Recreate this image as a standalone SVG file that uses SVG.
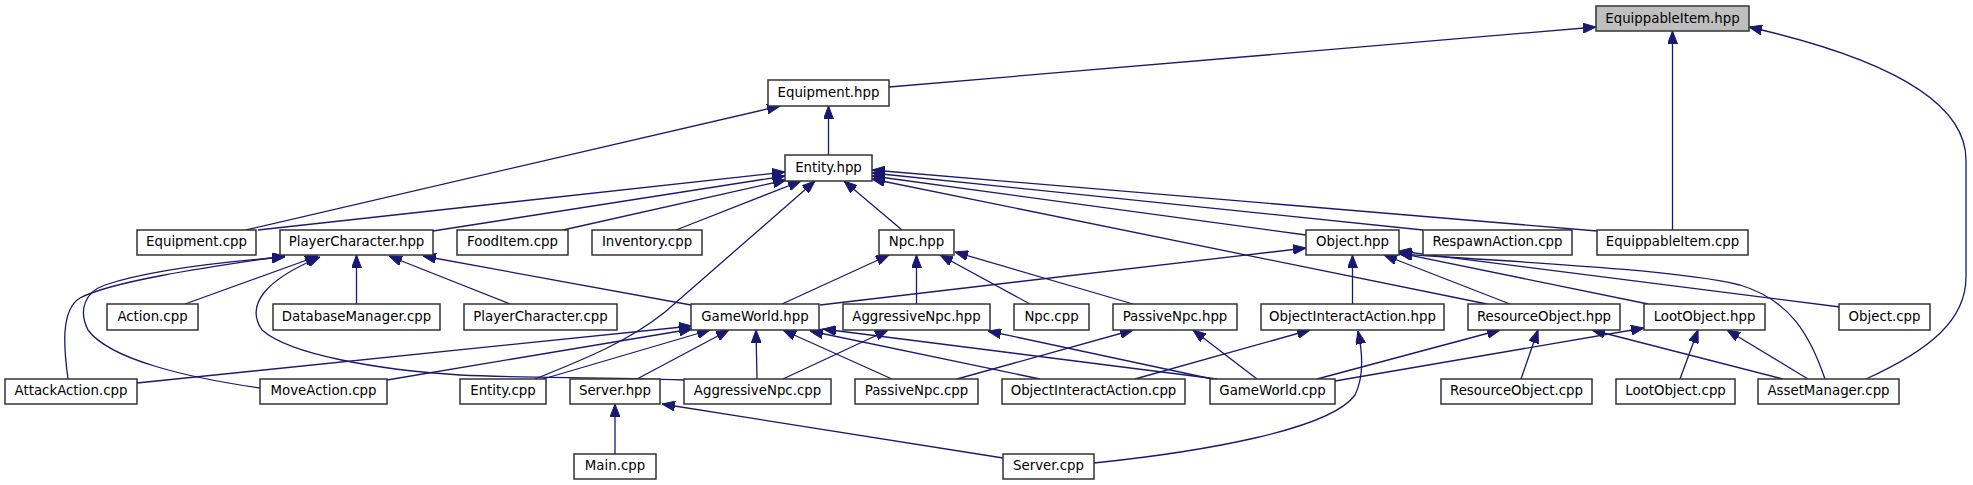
<svg xmlns="http://www.w3.org/2000/svg" width="1973" height="485" viewBox="0 0 1973 485">
<style>
.n rect{fill:#ffffff;stroke:#333333;stroke-width:1.5}
.n.main rect{fill:#bfbfbf}
.n text{font-family:"DejaVu Sans","Liberation Sans",sans-serif;font-size:13.33px;text-anchor:middle;fill:#000}
#edges path{fill:none;stroke:#191970;stroke-width:1.3;marker-end:url(#arr)}
</style>
<defs>
<marker id="arr" viewBox="0 0 13 10" refX="13" refY="5" markerWidth="13" markerHeight="10" markerUnits="userSpaceOnUse" orient="auto">
<path d="M0,0 L13,5 L0,10 z" fill="#191970" stroke="#191970" stroke-width="1"/>
</marker>
</defs>
<rect width="1973" height="485" fill="#ffffff"/>
<g id="edges">
<path d="M889,87 L1596,27"/>
<path d="M1672.5,230 L1672.5,31"/>
<path d="M1866,379 C1930,350 1966,320 1966,277 L1966,160 C1966,90 1850,50 1749,27"/>
<path d="M828.5,155 L828.5,106"/>
<path d="M246,230 L780,106"/>
<path d="M258,230 L785,172"/>
<path d="M433,231 L785,176"/>
<path d="M563,230 L786,180"/>
<path d="M676,230 L801,181"/>
<path d="M535,379 C590,357 630,340 665,312 L815,181"/>
<path d="M902,230 L844,181"/>
<path d="M1306,235 L872,176"/>
<path d="M1423,230 L872,173"/>
<path d="M1597,231 L872,170"/>
<path d="M1487,304 L872,179"/>
<path d="M68,379 C64,350 60,310 80,298 C110,282 200,268 285,256"/>
<path d="M260,388 C190,378 110,360 88,330 C78,310 85,292 105,285 C150,270 220,262 285,257"/>
<path d="M185,304 L318,256"/>
<path d="M684,380 C600,377 520,378 460,375 C380,370 290,355 262,330 C245,305 265,280 320,257"/>
<path d="M356.5,304 L356.5,255"/>
<path d="M510,304 L389,256"/>
<path d="M691,305 L423,256"/>
<path d="M137,383 L692,326"/>
<path d="M387,380 L692,329"/>
<path d="M543,379 L710,330"/>
<path d="M637,379 L729,330"/>
<path d="M757,379 L756,330"/>
<path d="M892,379 L783,330"/>
<path d="M1040,379 L810,331"/>
<path d="M1217,379 L823,329"/>
<path d="M782,304 L889,255"/>
<path d="M916.5,304 L916.5,255"/>
<path d="M1030,304 L940,255"/>
<path d="M1133,304 L955,252"/>
<path d="M820,305 L1306,248"/>
<path d="M1352.5,304 L1352.5,255"/>
<path d="M1510,304 L1384,255"/>
<path d="M1648,304 L1399,253"/>
<path d="M1840,307 L1399,251"/>
<path d="M1825,379 C1810,335 1790,300 1740,285 C1680,270 1520,262 1399,254"/>
<path d="M1135,379 L1310,330"/>
<path d="M1094,463 C1200,452 1330,430 1355,395 C1365,375 1362,350 1358,331"/>
<path d="M1317,379 L1500,330"/>
<path d="M1521,379 L1538,330"/>
<path d="M1783,379 L1592,330"/>
<path d="M1335,381 L1644,328"/>
<path d="M1680,379 L1698,330"/>
<path d="M1808,379 L1727,330"/>
<path d="M783,379 L888,330"/>
<path d="M1217,380 L988,331"/>
<path d="M957,379 L1133,330"/>
<path d="M1257,379 L1193,330"/>
<path d="M615,454 L615,404"/>
<path d="M1003,458 L662,404"/>
</g>
<g id="n_EquippableItem_hpp" class="n main"><rect x="1596" y="6" width="153" height="25"/><text x="1672.5" y="23">EquippableItem.hpp</text></g>
<g id="n_Equipment_hpp" class="n"><rect x="768" y="80" width="121" height="26"/><text x="828.5" y="97">Equipment.hpp</text></g>
<g id="n_Entity_hpp" class="n"><rect x="785" y="155" width="87" height="26"/><text x="828.5" y="172">Entity.hpp</text></g>
<g id="n_Equipment_cpp" class="n"><rect x="137" y="230" width="119" height="25"/><text x="196.5" y="246">Equipment.cpp</text></g>
<g id="n_PlayerCharacter_hpp" class="n"><rect x="280" y="230" width="153" height="25"/><text x="356.5" y="246">PlayerCharacter.hpp</text></g>
<g id="n_FoodItem_cpp" class="n"><rect x="457" y="230" width="111" height="25"/><text x="512.5" y="246">FoodItem.cpp</text></g>
<g id="n_Inventory_cpp" class="n"><rect x="592" y="230" width="110" height="25"/><text x="647" y="246">Inventory.cpp</text></g>
<g id="n_Npc_hpp" class="n"><rect x="879" y="230" width="75" height="25"/><text x="916.5" y="246">Npc.hpp</text></g>
<g id="n_Object_hpp" class="n"><rect x="1306" y="230" width="93" height="25"/><text x="1352.5" y="246">Object.hpp</text></g>
<g id="n_RespawnAction_cpp" class="n"><rect x="1423" y="230" width="149" height="25"/><text x="1497.5" y="246">RespawnAction.cpp</text></g>
<g id="n_EquippableItem_cpp" class="n"><rect x="1597" y="230" width="151" height="25"/><text x="1672.5" y="246">EquippableItem.cpp</text></g>
<g id="n_Action_cpp" class="n"><rect x="107" y="304" width="91" height="26"/><text x="152.5" y="321">Action.cpp</text></g>
<g id="n_DatabaseManager_cpp" class="n"><rect x="273" y="304" width="167" height="26"/><text x="356.5" y="321">DatabaseManager.cpp</text></g>
<g id="n_PlayerCharacter_cpp" class="n"><rect x="464" y="304" width="153" height="26"/><text x="540.5" y="321">PlayerCharacter.cpp</text></g>
<g id="n_GameWorld_hpp" class="n"><rect x="691" y="304" width="128" height="26"/><text x="755" y="321">GameWorld.hpp</text></g>
<g id="n_AggressiveNpc_hpp" class="n"><rect x="843" y="304" width="147" height="26"/><text x="916.5" y="321">AggressiveNpc.hpp</text></g>
<g id="n_Npc_cpp" class="n"><rect x="1014" y="304" width="75" height="26"/><text x="1051.5" y="321">Npc.cpp</text></g>
<g id="n_PassiveNpc_hpp" class="n"><rect x="1113" y="304" width="124" height="26"/><text x="1175" y="321">PassiveNpc.hpp</text></g>
<g id="n_ObjectInteractAction_hpp" class="n"><rect x="1261" y="304" width="183" height="26"/><text x="1352.5" y="321">ObjectInteractAction.hpp</text></g>
<g id="n_ResourceObject_hpp" class="n"><rect x="1468" y="304" width="152" height="26"/><text x="1544" y="321">ResourceObject.hpp</text></g>
<g id="n_LootObject_hpp" class="n"><rect x="1644" y="304" width="121" height="26"/><text x="1704.5" y="321">LootObject.hpp</text></g>
<g id="n_Object_cpp" class="n"><rect x="1839" y="304" width="91" height="26"/><text x="1884.5" y="321">Object.cpp</text></g>
<g id="n_AttackAction_cpp" class="n"><rect x="5" y="379" width="132" height="25"/><text x="71" y="395">AttackAction.cpp</text></g>
<g id="n_MoveAction_cpp" class="n"><rect x="260" y="379" width="127" height="25"/><text x="323.5" y="395">MoveAction.cpp</text></g>
<g id="n_Entity_cpp" class="n"><rect x="460" y="379" width="86" height="25"/><text x="503" y="395">Entity.cpp</text></g>
<g id="n_Server_hpp" class="n"><rect x="570" y="379" width="90" height="25"/><text x="615" y="395">Server.hpp</text></g>
<g id="n_AggressiveNpc_cpp" class="n"><rect x="684" y="379" width="147" height="25"/><text x="757.5" y="395">AggressiveNpc.cpp</text></g>
<g id="n_PassiveNpc_cpp" class="n"><rect x="855" y="379" width="123" height="25"/><text x="916.5" y="395">PassiveNpc.cpp</text></g>
<g id="n_ObjectInteractAction_cpp" class="n"><rect x="1002" y="379" width="183" height="25"/><text x="1093.5" y="395">ObjectInteractAction.cpp</text></g>
<g id="n_GameWorld_cpp" class="n"><rect x="1210" y="379" width="125" height="25"/><text x="1272.5" y="395">GameWorld.cpp</text></g>
<g id="n_ResourceObject_cpp" class="n"><rect x="1441" y="379" width="151" height="25"/><text x="1516.5" y="395">ResourceObject.cpp</text></g>
<g id="n_LootObject_cpp" class="n"><rect x="1616" y="379" width="119" height="25"/><text x="1675.5" y="395">LootObject.cpp</text></g>
<g id="n_AssetManager_cpp" class="n"><rect x="1758" y="379" width="141" height="25"/><text x="1828.5" y="395">AssetManager.cpp</text></g>
<g id="n_Main_cpp" class="n"><rect x="574" y="454" width="82" height="25"/><text x="615" y="470">Main.cpp</text></g>
<g id="n_Server_cpp" class="n"><rect x="1003" y="454" width="91" height="25"/><text x="1048.5" y="470">Server.cpp</text></g>
</svg>
